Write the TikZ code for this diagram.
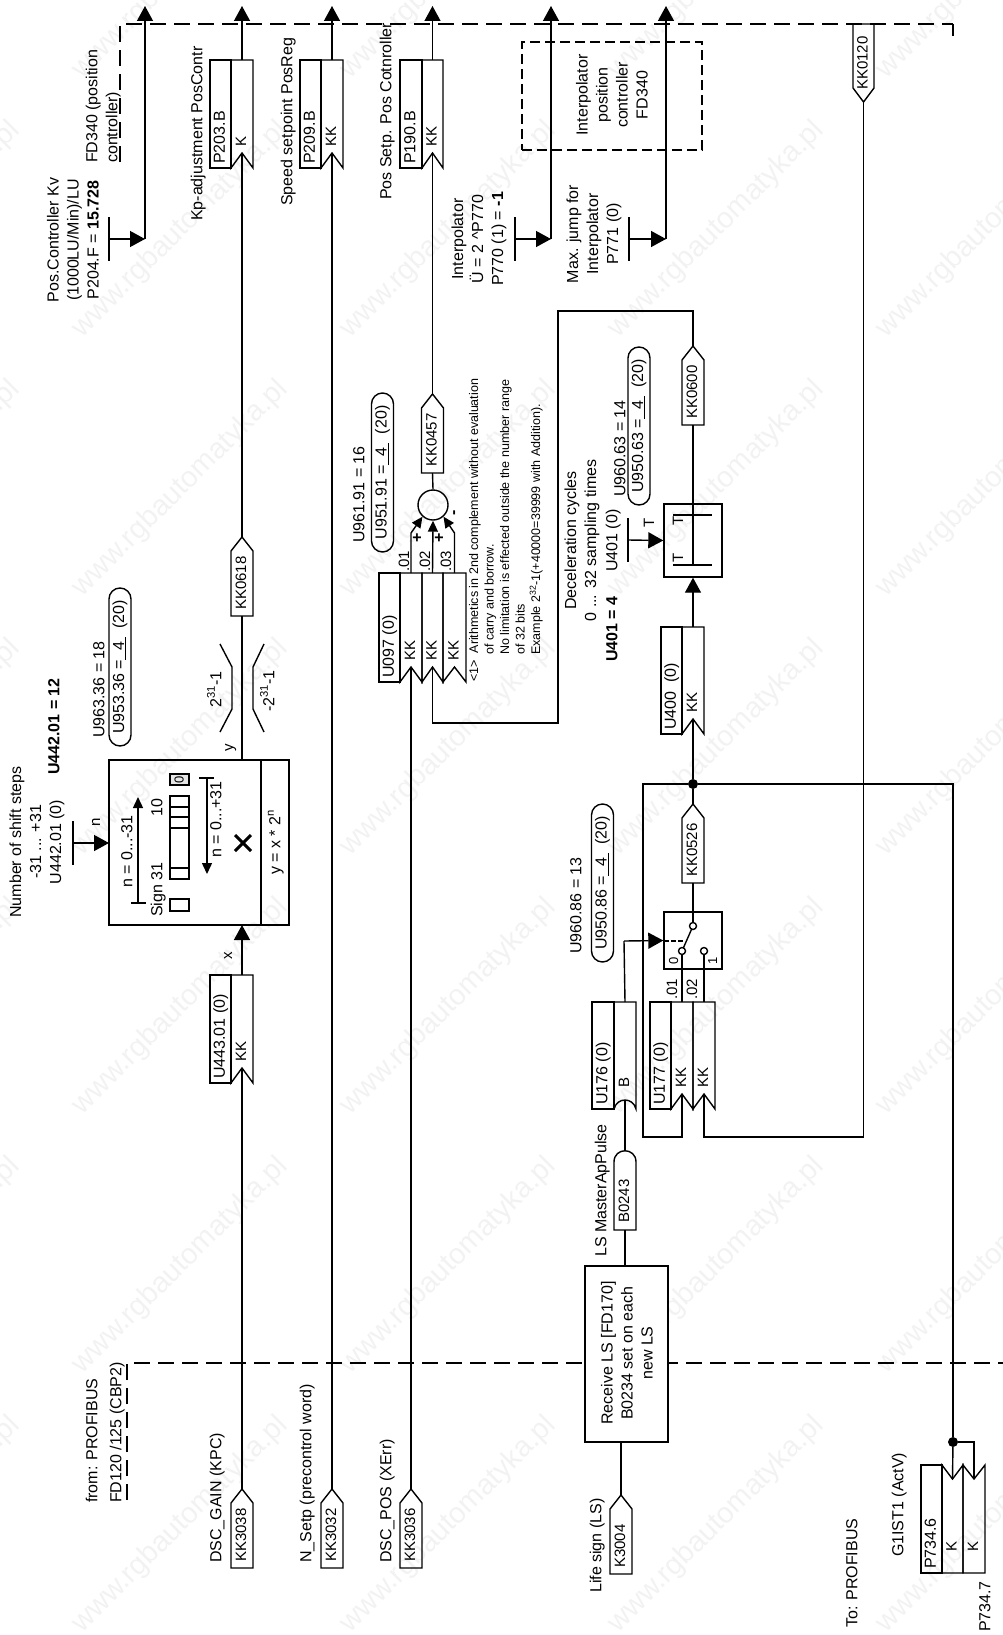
\documentclass[tikz,border=0pt]{standalone}
\usepackage{fontspec}
\setmainfont{Liberation Sans}
\usetikzlibrary{arrows.meta,calc}

\tikzset{
  wire/.style={line width=1.4pt,line join=miter},
  dashline/.style={line width=1.4pt,dash pattern=on 16pt off 8pt},
  bigtip/.style={-{Triangle[length=15pt,width=16pt]}},
  smalltip/.style={-{Triangle[length=11pt,width=10pt]}},
  lab/.style={font=\fontsize{16}{20}\selectfont,rotate=90,inner sep=0pt,text height=11.5pt,text depth=3pt},
  tagtxt/.style={font=\fontsize{15}{18}\selectfont,rotate=90,inner sep=0pt,text height=11pt,text depth=3pt},
  multi/.style={font=\fontsize{16}{20}\selectfont,rotate=90,inner sep=0pt,align=center},
  small/.style={font=\fontsize{12.5}{15.5}\selectfont,rotate=90,inner sep=0pt,align=left},
  bold/.style={font=\fontsize{16}{20}\selectfont\bfseries,rotate=90,inner sep=0pt,text height=11.5pt,text depth=3pt},
  pill/.style={draw,wire,rounded corners=11pt,rotate=90,inner sep=0pt,minimum height=22pt,font=\fontsize{16}{20}\selectfont},
  box/.style={draw,wire,inner sep=0pt},
  contact/.style={draw,wire,circle,fill=white,inner sep=0pt,minimum size=7pt},
  junction/.style={circle,fill=black,inner sep=0pt,minimum size=10pt},
  wmark/.style={font=\fontsize{29}{30}\selectfont,text=black!5,rotate=45,inner sep=0pt,anchor=west}
}

% tag pointing up, name / centre x / base y / text
\newcommand{\sinktag}[4]{
  \draw[wire] (#2-11,#3) -- (#2-11,#3-65) -- (#2,#3-79) -- (#2+11,#3-65) -- (#2+11,#3) -- cycle;
  \node[tagtxt,anchor=west] (#1) at (#2,#3-6) {#4};
  \coordinate (#1-tip) at (#2,#3-79);
  \coordinate (#1-base) at (#2,#3);
}
% connector column with the notch below
\newcommand{\notchcol}[6]{
  \draw[wire] (#2,#4) -- (#3,#4) -- (#3,#5) -- ({(#2+#3)/2},#5-15) -- (#2,#5) -- cycle;
  \node[tagtxt,anchor=west] (#1) at ({(#2+#3)/2},#5-21) {#6};
  \coordinate (#1-top) at ({(#2+#3)/2},#4);
  \coordinate (#1-in) at ({(#2+#3)/2},#5-15);
}
% connector column with the notch on top
\newcommand{\notchdown}[6]{
  \draw[wire] (#2,#4) -- ({(#2+#3)/2},#4+14) -- (#3,#4) -- (#3,#5) -- (#2,#5) -- cycle;
  \node[tagtxt,anchor=west] (#1) at ({(#2+#3)/2},#5-21) {#6};
  \coordinate (#1-in) at ({(#2+#3)/2},#4+14);
}
\newcommand{\titlecol}[6]{
  \draw[wire] (#2,#4) rectangle (#3,#5);
  \node[lab,anchor=west] (#1) at ({(#2+#3)/2},#5-4) {#6};
}
% fixed setting: bar and the point it feeds from
\newcommand{\setbar}[3]{
  \draw[wire] (#2,#3-22) -- (#2,#3+22);
  \coordinate (#1) at (#2,#3);
}

\begin{document}
\begin{tikzpicture}[x=1pt,y=-1pt]
\useasboundingbox (0,0) rectangle (1003,1635);

\foreach \ix in {-1,...,3}
  \foreach \iy in {0,...,6}
    \node[wmark] (wm\ix\iy) at (77+268*\ix,74+259*\iy) {www.rgbautomatyka.pl};

% frame of the position controller
\coordinate (fa) at (120,162);
\coordinate (fb) at (120,24);
\coordinate (fc) at (953,24);
\coordinate (fd) at (953,36);
\draw[dashline] (fa) -- (fb) -- (fc);
\draw[wire] (fc) -- (fd);
\coordinate (fe) at (127,1500);
\coordinate (ff) at (127,1363);
\coordinate (fg) at (1003,1363);
\draw[dashline] (fe) -- (ff) -- (fg);

\node[draw,line width=1.4pt,dash pattern=on 10pt off 5pt,inner sep=0pt,minimum width=180pt,minimum height=108pt] (ipolbox) at (612,96) {};
\node[multi] (ipoltxt) at (612,95) {Interpolator\\position\\controller\\FD340};

% output connectors
\titlecol{p203t}{210}{231}{60}{168}{P203.B}
\notchcol{p203}{231}{253}{60}{168}{K}
\titlecol{p209t}{300}{321}{60}{168}{P209.B}
\notchcol{p209}{321}{343}{60}{168}{KK}
\titlecol{p190t}{400}{422}{60}{168}{P190.B}
\notchcol{p190}{422}{443}{60}{168}{KK}
\node[lab,anchor=west] (kptxt) at (198,221) {Kp-adjustment PosContr};
\node[lab,anchor=west] (speedtxt) at (288,206) {Speed setpoint PosReg};
\node[lab,anchor=west] (possetp) at (387,200) {Pos Setp. Pos Cotnroller};

\coordinate (outa) at (145,6);
\coordinate (outb) at (242,6);
\coordinate (outc) at (332,6);
\coordinate (outd) at (432.5,6);
\coordinate (oute) at (551,6);
\coordinate (outf) at (666,6);
\coordinate (kvjoin) at (145,239);
\coordinate (uejoin) at (551,239);
\coordinate (jumpjoin) at (666,239);
\draw[wire,bigtip] (kvjoin) -- (outa);
\draw[wire,bigtip] (p203-top) -- (outb);
\draw[wire,bigtip] (p209-top) -- (outc);
\draw[wire,bigtip] (p190-top) -- (outd);
\draw[wire,bigtip] (uejoin) -- (oute);
\draw[wire,bigtip] (jumpjoin) -- (outf);

\setbar{kvset}{109}{239}
\setbar{ueset}{515}{239}
\setbar{jumpset}{629}{239}
\draw[wire,bigtip] (kvset) -- (kvjoin);
\draw[wire,bigtip] (ueset) -- (uejoin);
\draw[wire,bigtip] (jumpset) -- (jumpjoin);

\node[multi] (kvtxt) at (73,240) {Pos.Controller Kv\\(1000LU/Min)/LU\\P204.F = \textbf{15.728}};
\node[lab,anchor=west] (fdtxta) at (93,163) {FD340 (position};
\node[lab,anchor=west] (fdtxtb) at (113,163) {controller)};
\node[multi] (uetxt) at (479,239) {Interpolator\\Ü = 2 \string^P770\\P770 (1) = \textbf{-1}};
\node[multi] (jumptxt) at (594,234) {Max. jump for\\Interpolator\\P771 (0)};

% shift block
\node[box,minimum width=180pt,minimum height=165pt] (shiftbox) at (199,842.5) {};
\draw[wire] (261,760) -- (261,925);
\coordinate (shiftout) at (242,760);
\coordinate (shiftin) at (242,925);
\setbar{shiftset}{73}{843}
\draw[wire,bigtip] (shiftset) -- (109,843);
\node[tagtxt] (ntxt) at (96,822) {n};
\node[multi] (shifttxt) at (37,842) {Number of shift steps\\-31 ... +31\\U442.01 (0)};
\node[bold,anchor=west] (shiftval) at (55,775) {U442.01 = 12};
\draw[wire] (131,903) -- (146,903);
\draw[wire,smalltip] (138,903) -- (138,797);
\node[lab,anchor=west] (nneg) at (128,888) {n = 0...-31};
\draw[wire] (199,778) -- (214,778);
\draw[wire,smalltip] (207,778) -- (207,874);
\node[lab,anchor=west] (npos) at (217,858) {n = 0...+31};
\draw[wire] (170,899) rectangle (189,911);
\draw[wire] (170,796) rectangle (189,879);
\foreach \yreg in {807,817,828,868}
  \draw[wire] (170,\yreg) -- (189,\yreg);
\node[draw,wire,fill=black!10,inner sep=0pt,minimum width=19pt,minimum height=11pt] (zerobox) at (179.5,779.5) {};
\node[tagtxt,font=\fontsize{13}{15}\selectfont] (zerotxt) at (179.5,779.5) {0};
\node[lab,anchor=west] (signtxt) at (158,917) {Sign 31};
\node[lab,anchor=west] (tentxt) at (158,817) {10};
\draw[line width=3pt] (235,835) -- (251,851);
\draw[line width=3pt] (251,835) -- (235,851);
\node[lab,anchor=west] (shifteq) at (276,875) {y = x * 2\textsuperscript{n}};
\node[tagtxt] (ytxt) at (229,748) {y};
\node[tagtxt] (xtxt) at (228,956) {x};

\titlecol{u443t}{210}{231}{975}{1083}{U443.01 (0)}
\notchcol{u443}{231}{253}{975}{1083}{KK}
\draw[wire,bigtip] (u443-top) -- (shiftin);

% limiter
\draw[wire] (220,644) -- (232,667) -- (232,709) -- (220,732);
\draw[wire] (264,644) -- (253,667) -- (253,709) -- (264,732);
\node[lab,anchor=west] (limhi) at (217,708) {2\textsuperscript{31}-1};
\node[lab,anchor=west] (limlo) at (270,712) {-2\textsuperscript{31}-1};

\sinktag{kk0618}{242}{616}{KK0618}
\draw[wire] (shiftout) -- (kk0618-base);
\draw[wire] (kk0618-tip) -- (p203-in);
\node[lab,anchor=west] (u963) at (100,738) {U963.36 = 18};
\node[pill,minimum width=158pt] (u953) at (120,667) {U953.36 =\underline{\ \ 4\ }\ \ (20)};

% inputs from profibus
\sinktag{kk3038}{242}{1568}{KK3038}
\sinktag{kk3032}{332}{1568}{KK3032}
\sinktag{kk3036}{411}{1568}{KK3036}
\sinktag{k3004}{621}{1574}{K3004}
\draw[wire] (kk3038-tip) -- (u443-in);
\draw[wire] (kk3032-tip) -- (p209-in);
\node[lab,anchor=west] (gaintxt) at (217,1563) {DSC\_GAIN (KPC)};
\node[lab,anchor=west] (nsetptxt) at (307,1563) {N\_Setp (precontrol word)};
\node[lab,anchor=west] (postxt) at (387,1563) {DSC\_POS (XErr)};
\node[lab,anchor=west] (lifetxt) at (597,1593) {Life sign (LS)};
\node[lab,anchor=west] (fromtxta) at (93,1503) {from: PROFIBUS};
\node[lab,anchor=west] (fromtxtb) at (117,1503) {FD120 /125 (CBP2)};

% adder
\titlecol{u097t}{379}{400}{573}{682}{U097 (0)}
\notchcol{u097a}{400}{422}{573}{682}{KK}
\notchcol{u097b}{422}{443}{573}{682}{KK}
\notchcol{u097c}{443}{466}{573}{682}{KK}
\node[tagtxt,anchor=west] (dota) at (405,572) {.01};
\node[tagtxt,anchor=west] (dotb) at (426,572) {.02};
\node[tagtxt,anchor=west] (dotc) at (447,572) {.03};
\node[draw,wire,circle,inner sep=0pt,minimum size=30pt] (sum) at (433,505) {};
\draw[wire,smalltip] (u097a-top) -- (411,533) -- (sum.228);
\draw[wire,smalltip] (u097b-top) -- (sum.south);
\draw[wire,smalltip] (u097c-top) -- (454.5,533) -- (sum.312);
\node[bold] (plusa) at (418,538) {+};
\node[bold] (plusb) at (440,538) {+};
\node[bold] (minus) at (454,513) {-};
\draw[wire] (kk3036-tip) -- (u097a-in);
\sinktag{kk0457}{432.5}{473}{KK0457}
\draw[wire] (sum.north) -- (kk0457-base);
\draw[wire] (kk0457-tip) -- (p190-in);
\node[lab,anchor=west] (u961) at (360,543) {U961.91 = 16};
\node[pill,minimum width=159pt] (u951) at (382.5,472.5) {U951.91 =\underline{\ \ 4\ }\ \ (20)};
\node[small,anchor=west] (notetxt) at (506,682) {<1>\ \ Arithmetics in 2nd complement without evaluation\\
\hspace*{27pt}of carry and borrow.\\
\hspace*{27pt}No limitation is effected outside the number range\\
\hspace*{27pt}of 32 bits\\
\hspace*{27pt}Example 2\textsuperscript{32}-1(+40000=39999 with Addition).};

% deceleration
\node[box,minimum width=58pt,minimum height=73pt] (tbox) at (693,540.5) {};
\coordinate (tmid) at (693,565);
\draw[wire] (tbox.north) -- (tmid);
\draw[wire] (673,515) -- (712,515);
\draw[wire] (673,565) -- (712,565);
\node[tagtxt] (tinb) at (679,521) {T};
\node[tagtxt] (tina) at (679,558) {T};
\setbar{tset}{628}{540}
\draw[wire,bigtip] (tset) -- (tbox.west);
\node[tagtxt] (tsettxt) at (650,523) {T};
\node[multi] (dectxt) at (582,540.5) {Deceleration cycles\\0 ... 32 sampling times};
\node[lab,anchor=west] (u401) at (613,572) {U401 (0)};
\node[bold,anchor=west] (u401val) at (613,662) {U401 = 4};
\sinktag{kk0600}{693}{425}{KK0600}
\draw[wire] (tbox.north) -- (kk0600-base);
\coordinate (loopa) at (432.5,723);
\coordinate (loopb) at (558,723);
\coordinate (loopc) at (558,311);
\coordinate (loopd) at (693,311);
\draw[wire] (u097b-in) -- (loopa) -- (loopb) -- (loopc) -- (loopd) -- (kk0600-tip);
\node[lab,anchor=west] (u960a) at (621,497) {U960.63 = 14};
\node[pill,minimum width=158pt] (u950a) at (639,426) {U950.63 =\underline{\ \ 4\ }\ \ (20)};

\titlecol{u400t}{661}{682}{627}{734}{U400\ \ (0)}
\notchcol{u400}{682}{704}{627}{734}{KK}
\draw[wire,bigtip] (u400-top) -- (tbox.south);

% source switch
\node[box,minimum width=58pt,minimum height=57pt] (swbox) at (693,940.5) {};
\node[tagtxt,font=\fontsize{13}{15}\selectfont] (swzero) at (674,961) {0};
\node[tagtxt,font=\fontsize{13}{15}\selectfont] (swone) at (713,961) {1};
\titlecol{u176t}{592}{614}{1002}{1109}{U176 (0)}
\draw[wire] (614,1002) -- (636,1002) -- (636,1109) .. controls (633,1097) and (617,1097) .. (614,1109);
\node[tagtxt,anchor=west] (btxt) at (625,1088) {B};
\coordinate (u176-top) at (625,1002);
\coordinate (u176-in) at (625,1100);
\titlecol{u177t}{650}{671}{1002}{1109}{U177 (0)}
\notchcol{u177a}{671}{693}{1002}{1109}{KK}
\notchcol{u177b}{693}{715}{1002}{1109}{KK}
\node[tagtxt,anchor=west] (dotd) at (673,1000) {.01};
\node[tagtxt,anchor=west] (dote) at (693,1000) {.02};
\coordinate (swarrow) at (624,941);
\draw[wire] (u176-top) -- (swarrow);
\draw[wire,bigtip] (swarrow) -- (swbox.west);
\draw[wire,dash pattern=on 5pt off 2pt] (664,941) -- (684,941);
\draw[wire] (693,926) -- (682,951);
\draw[wire] (682,951) -- (u177a-top);
\draw[wire] (704,951) -- (u177b-top);
\node[contact] (swc) at (693,926) {};
\node[contact] (sw0) at (682,951) {};
\node[contact] (sw1) at (704,951) {};

\sinktag{kk0526}{693}{883}{KK0526}
\draw[wire] (swc) -- (kk0526-base);
\node[junction] (junca) at (693,784) {};
\draw[wire] (kk0526-tip) -- (junca);
\draw[wire] (junca) -- (u400-in);
\node[lab,anchor=west] (u960b) at (577,954) {U960.86 = 13};
\node[pill,minimum width=158pt] (u950b) at (602.5,883) {U950.86 =\underline{\ \ 4\ }\ \ (20)};

% tag from the frame above, tip down
\draw[wire] (853,24) -- (874,24) -- (874,88) -- (863.5,102) -- (853,88) -- cycle;
\node[tagtxt,anchor=west] (kk0120) at (863.5,90) {KK0120};
\coordinate (kk0120-tip) at (863.5,102);

% feedback lines
\coordinate (fbla) at (682,1137);
\coordinate (fblb) at (643,1137);
\coordinate (fblc) at (643,784);
\coordinate (fbra) at (704,1137);
\coordinate (fbrb) at (863.5,1137);
\coordinate (actcorner) at (953,784);
\draw[wire] (u177a-in) -- (fbla) -- (fblb) -- (fblc) -- (junca);
\draw[wire] (u177b-in) -- (fbra) -- (fbrb) -- (kk0120-tip);

% actual value to profibus
\node[junction] (juncb) at (953,1442) {};
\draw[wire] (junca) -- (actcorner) -- (juncb);
\titlecol{p734t}{921}{942}{1465}{1573}{P734.6}
\notchdown{p734a}{942}{963}{1465}{1573}{K}
\notchdown{p734b}{963}{985}{1465}{1573}{K}
\coordinate (actbranch) at (974,1442);
\draw[wire] (juncb) -- (p734a-in);
\draw[wire] (juncb) -- (actbranch) -- (p734b-in);
\node[lab,anchor=west] (g1txt) at (899,1557) {G1IST1 (ActV)};
\node[lab,anchor=west] (totxt) at (853,1628) {To: PROFIBUS};
\node[lab,anchor=west] (p7347) at (986,1632) {P734.7};

% receive block
\node[box,fill=white,minimum width=83pt,minimum height=176pt] (recv) at (626.5,1354) {};
\node[multi] (recvtxt) at (627,1353) {Receive LS [FD170]\\B0234 set on each\\new LS};
\coordinate (recvtop) at (625,1266);
\coordinate (recvbot) at (621,1442);
\draw[wire] (recvbot) -- (k3004-tip);

% LS pulse tag
\draw[wire] (614,1230) -- (614,1162) .. controls (614,1147) and (636,1147) .. (636,1162) -- (636,1230) -- cycle;
\node[tagtxt,anchor=west] (b0243) at (625,1223) {B0243};
\coordinate (b0243-tip) at (625,1151);
\coordinate (b0243-base) at (625,1230);
\draw[wire] (b0243-tip) -- (u176-in);
\draw[wire] (b0243-base) -- (recvtop);
\node[lab,anchor=west] (lstxt) at (602,1257) {LS MasterApPulse};
\end{tikzpicture}
\end{document}
